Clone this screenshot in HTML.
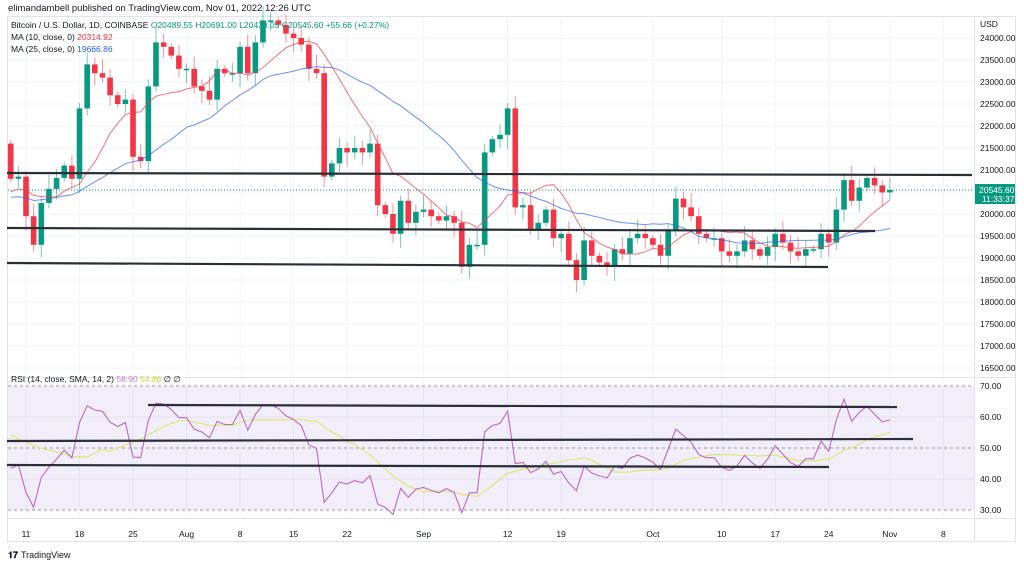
<!DOCTYPE html>
<html><head><meta charset="utf-8"><style>
body{margin:0;background:#fff;width:1024px;height:565px;overflow:hidden;font-family:"Liberation Sans",sans-serif}
svg text{font-family:"Liberation Sans",sans-serif}
</style></head><body>
<svg id="s" width="1024" height="565" xmlns="http://www.w3.org/2000/svg">
<text x="8" y="11" font-size="9.5" fill="#131722">elimandambell published on TradingView.com, Nov 01, 2022 12:26 UTC</text>
<rect x="7.5" y="16.5" width="1008" height="525" fill="none" stroke="#e0e3eb"/>
<g id="g"></g>
<text x="11" y="28" font-size="8.5" fill="#131722">Bitcoin / U.S. Dollar, 1D, COINBASE <tspan fill="#089981">O20489.55 H20691.00 L20439.05 C20545.60 +55.66 (+0.27%)</tspan></text>
<text x="11" y="40" font-size="8.5" fill="#131722">MA (10, close, 0) <tspan fill="#f23645">20314.92</tspan></text>
<text x="11" y="52" font-size="8.5" fill="#131722">MA (25, close, 0) <tspan fill="#2962ff">19666.86</tspan></text>
<text x="11" y="382" font-size="8.5" fill="#131722">RSI (14, close, SMA, 14, 2) <tspan fill="#9c27b0" fill-opacity=".6">58.90</tspan> <tspan fill="#cddc39">54.86</tspan> ∅ ∅</text>
<text x="980" y="27" font-size="8.5" fill="#131722">USD</text>
<text x="8" y="558" font-size="9" fill="#131722" font-weight="bold">𝟏𝟕</text>
<text x="21" y="558" font-size="9" fill="#131722">TradingView</text>
</svg>
<script>
var C=[20800,20850,19950,19300,20250,20570,20820,21100,20800,22400,23400,23200,23100,22700,22500,22600,21300,21200,22900,23900,23800,23600,23300,23300,22900,22800,22600,23300,23200,23200,23800,23200,23900,24400,24400,24300,24100,24000,23850,23300,23200,20850,21150,21500,21400,21500,21400,21600,20200,20000,19550,20300,19800,20050,20100,19950,19850,19950,19800,18800,19300,19300,21400,21700,21800,22400,20150,20200,19650,19800,20100,19450,19550,18950,18500,19400,19050,18900,18800,19200,19100,19450,19550,19450,19300,19050,19650,20350,20150,19950,19550,19450,19450,19150,19050,19150,19400,19200,19050,19250,19550,19350,19150,19050,19200,19200,19550,19350,20100,20770,20300,20600,20820,20650,20490,20545];
var pad=[];for(var i=0;i<29;i++)pad.push(20300+((i*37)%9-4)*120);pad.push(21600);
var all=pad.concat(C),P=pad.length;
function X(d){return 26+d*7.645}
function Y(p){return 170+(21000-p)*0.044}
function R(v){return 510-(v-30)*3.1}
var h='';
var dt=[[0,'11'],[7,'18'],[14,'25'],[21,'Aug'],[28,'8'],[35,'15'],[42,'22'],[52,'Sep'],[63,'12'],[70,'19'],[82,'Oct'],[91,'10'],[98,'17'],[105,'24'],[113,'Nov'],[120,'8']];
dt.forEach(function(t){var x=X(t[0]);h+='<line x1="'+x+'" y1="17" x2="'+x+'" y2="518" stroke="#f0f3fa"/>';h+='<text x="'+x+'" y="537" font-size="8.5" fill="#131722" text-anchor="middle">'+t[1]+'</text>';});
for(var p=16500;p<=24000;p+=500){var y=Y(p);h+='<line x1="8" y1="'+y+'" x2="974" y2="'+y+'" stroke="#f0f3fa"/>';h+='<text x="980" y="'+(y+3)+'" font-size="8.5" fill="#131722">'+p+'.00</text>';}
h+='<line x1="8" y1="377.5" x2="1015" y2="377.5" stroke="#e0e3eb"/><line x1="8" y1="518.5" x2="1015" y2="518.5" stroke="#e0e3eb"/><line x1="974.5" y1="17" x2="974.5" y2="542" stroke="#e0e3eb"/>';
h+='<rect x="8" y="386" width="966" height="124" fill="#7e57c2" fill-opacity=".1"/>';
[[386,70],[448,50],[510,30]].forEach(function(a){h+='<line x1="8" y1="'+a[0]+'" x2="974" y2="'+a[0]+'" stroke="#9598a1" stroke-dasharray="3,3"/>';h+='<text x="980" y="'+(a[0]+3)+'" font-size="8.5" fill="#131722">'+a[1]+'.00</text>';});
[417,479].forEach(function(y){h+='<line x1="8" y1="'+y+'" x2="974" y2="'+y+'" stroke="#e6e0f0"/>';});
h+='<text x="980" y="420" font-size="8.5" fill="#131722">60.00</text><text x="980" y="482" font-size="8.5" fill="#131722">40.00</text>';
h+='<line x1="8" y1="190" x2="974" y2="190" stroke="#089981" stroke-dasharray="1,2"/>';
for(var i=0;i<C.length;i++){var c=all[P+i],o=all[P+i-1],x=X(i-2);var up=c>=o,col=up?'#089981':'#f23645';
var hi=Math.max(o,c)+80+((i*53)%7)*40,lo=Math.min(o,c)-80-((i*31)%7)*40;
h+='<line x1="'+x+'" y1="'+Y(hi)+'" x2="'+x+'" y2="'+Y(lo)+'" stroke="'+col+'" stroke-opacity=".55"/>';
var t=Y(Math.max(o,c)),b=Y(Math.min(o,c));if(b-t<1.5)b=t+1.5;
h+='<rect x="'+(x-2.8)+'" y="'+t+'" width="5.6" height="'+(b-t)+'" fill="'+col+'"/>';}
function ma(n){var s='';for(var i=0;i<C.length;i++){var k=P+i,sum=0;for(var j=0;j<n;j++)sum+=all[k-j];s+=(i?'L':'M')+X(i-2).toFixed(1)+','+Y(sum/n).toFixed(1);}return s;}
h+='<path d="'+ma(10)+'" fill="none" stroke="#f23645" stroke-opacity=".7"/>';
h+='<path d="'+ma(25)+'" fill="none" stroke="#2962ff" stroke-opacity=".7"/>';
var ag=0,al=0,rs=[];for(var k=1;k<all.length;k++){var d=all[k]-all[k-1],g=Math.max(d,0),l=Math.max(-d,0);if(k<=14){ag+=g/14;al+=l/14;}else{ag=(ag*13+g)/14;al=(al*13+l)/14;}var v=al==0?100:100-100/(1+ag/al);var ii=k-P;if(ii>=0&&ii<20)v-=(20-ii)*0.6;rs.push(v);}
var r='',sm='';for(var i=0;i<C.length;i++){var k=P+i-1;r+=(i?'L':'M')+X(i-2).toFixed(1)+','+R(rs[k]).toFixed(1);var su=0;for(var j=0;j<14;j++)su+=rs[k-j];sm+=(i?'L':'M')+X(i-2).toFixed(1)+','+R(su/14).toFixed(1);}
h+='<path d="'+sm+'" fill="none" stroke="#dce775" stroke-width="1.2"/>';
h+='<path d="'+r+'" fill="none" stroke="#ba68c8" stroke-width="1.1"/>';
var L=[[7,173,972,175],[7,228,875,231],[7,263,828,267],[148,405,897,407],[7,441,913,439],[7,465,829,467]];
L.forEach(function(a){h+='<line x1="'+a[0]+'" y1="'+a[1]+'" x2="'+a[2]+'" y2="'+a[3]+'" stroke="#2a2e39" stroke-width="2.2"/>';});
h+='<rect x="975" y="184" width="40" height="20" fill="#089981"/><text x="979" y="193" font-size="8.5" fill="#fff">20545.60</text><text x="982" y="202" font-size="8.5" fill="#fff">11:33:37</text>';
document.getElementById('g').innerHTML=h;
</script>
</body></html>
